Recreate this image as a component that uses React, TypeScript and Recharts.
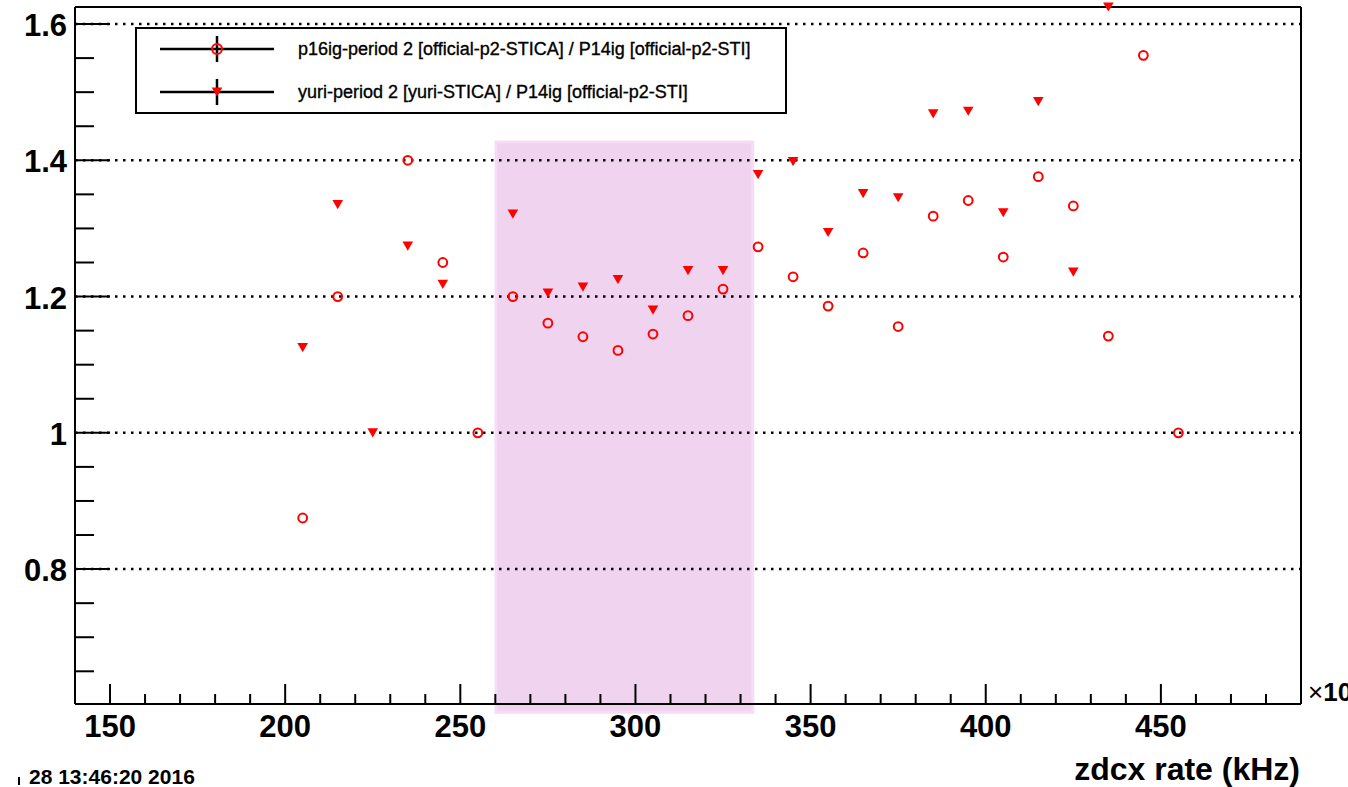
import React from 'react'
import {
  ScatterChart,
  Scatter,
  XAxis,
  YAxis,
  CartesianGrid,
  ReferenceArea,
  ReferenceLine,
  Legend,
} from 'recharts'

// zdcx rate (kHz) and yield ratios per run group
const P16_RATES = [205, 215, 235, 245, 255, 265, 275, 285, 295, 305, 315, 325, 335, 345, 355, 365, 375, 385, 395, 405, 415, 425, 435, 445, 455]
const P16_RATIOS = [0.875, 1.2, 1.4, 1.25, 1.0, 1.2, 1.161, 1.141, 1.121, 1.145, 1.172, 1.211, 1.273, 1.229, 1.186, 1.264, 1.156, 1.318, 1.341, 1.258, 1.376, 1.333, 1.142, 1.554, 1.0]

const YURI_RATES = [205, 215, 225, 235, 245, 265, 275, 285, 295, 305, 315, 325, 335, 345, 355, 365, 375, 385, 395, 405, 415, 425, 435]
const YURI_RATIOS = [1.125, 1.335, 1.0, 1.274, 1.218, 1.321, 1.205, 1.214, 1.225, 1.18, 1.238, 1.238, 1.379, 1.398, 1.294, 1.351, 1.345, 1.468, 1.472, 1.323, 1.486, 1.236, 1.625]

const SERIES_NAMES = [
  'p16ig-period 2 [official-p2-STICA] / P14ig [official-p2-STI]',
  'yuri-period 2 [yuri-STICA] / P14ig [official-p2-STI]',
]

const X_DOMAIN = [140, 490]
const Y_DOMAIN = [0.602, 1.625]

const X_TICKS = [150, 160, 170, 180, 190, 200, 210, 220, 230, 240, 250, 260, 270, 280, 290, 300, 310, 320, 330, 340, 350, 360, 370, 380, 390, 400, 410, 420, 430, 440, 450, 460, 470, 480]
const X_LABELS = [150, 200, 250, 300, 350, 400, 450]
const Y_TICKS = [0.65, 0.7, 0.75, 0.8, 0.85, 0.9, 0.95, 1, 1.05, 1.1, 1.15, 1.2, 1.25, 1.3, 1.35, 1.4, 1.45, 1.5, 1.55, 1.6]
const Y_LABELS = [0.8, 1, 1.2, 1.4, 1.6]

// highlighted rate window
const WINDOW_X = [260.2, 333.5]
const WINDOW_Y = [0.59, 1.427]

const W = 1348
const H = 787
const PLOT_LEFT = 75
const PLOT_RIGHT = 1301
const PLOT_TOP = 7
const PLOT_BOTTOM = 704
const Y_AXIS_W = 40
const X_AXIS_H = 40

const FONT = '"Liberation Sans", Arial, Helvetica, sans-serif'
const RED = '#ff0000'

const p16Data = P16_RATES.map((x, i) => ({ x, y: P16_RATIOS[i] }))
const yuriData = YURI_RATES.map((x, i) => ({ x, y: YURI_RATIOS[i] }))

function OpenCircle({ cx, cy, r = 4.4 }: any) {
  return <circle cx={cx} cy={cy} r={r} fill="none" stroke={RED} strokeWidth={2} />
}

function DownTriangle({ cx, cy }: any) {
  return (
    <polygon
      points={`${cx - 5.3},${cy - 4.6} ${cx + 5.3},${cy - 4.6} ${cx},${cy + 4.6}`}
      fill={RED}
    />
  )
}

function YTick({ y, payload }: any) {
  const major = Y_LABELS.includes(payload.value)
  return (
    <g>
      <line x1={PLOT_LEFT} x2={PLOT_LEFT + (major ? 35 : 19)} y1={y} y2={y} stroke="#000" strokeWidth={2} />
      {major && (
        <text x={67} y={y + 12} textAnchor="end" fontFamily={FONT} fontWeight="bold" fontSize={31} fill="#000">
          {String(payload.value)}
        </text>
      )}
    </g>
  )
}

function XTick({ x, payload }: any) {
  const major = X_LABELS.includes(payload.value)
  return (
    <g>
      <line x1={x} x2={x} y1={PLOT_BOTTOM} y2={PLOT_BOTTOM - (major ? 20 : 10)} stroke="#000" strokeWidth={2} />
      {major && (
        <text x={x} y={737} textAnchor="middle" fontFamily={FONT} fontWeight="bold" fontSize={31} fill="#000">
          {payload.value}
        </text>
      )}
    </g>
  )
}

function AxisTitle() {
  return (
    <g>
      <text x={1300} y={780} textAnchor="end" fontFamily={FONT} fontWeight="bold" fontSize={32} fill="#000">
        zdcx rate (kHz)
      </text>
      <text x={1308} y={701} fontFamily={FONT} fontSize={26} fill="#000">
        ×<tspan fontWeight="bold">10</tspan>
      </text>
    </g>
  )
}

function LegendBox() {
  const rows = [20, 63]
  return (
    <div
      style={{
        width: 652,
        height: 87,
        boxSizing: 'border-box',
        border: '2px solid #000',
        background: '#fff',
      }}
    >
      <svg width={648} height={83} style={{ display: 'block' }}>
        {rows.map((ry, i) => (
          <g key={i}>
            <line x1={23} x2={137} y1={ry} y2={ry} stroke="#000" strokeWidth={2.5} />
            <line x1={80} x2={80} y1={ry - 13} y2={ry + 13} stroke="#000" strokeWidth={2.5} />
            {i === 0 ? <OpenCircle cx={80} cy={ry} r={5} /> : <DownTriangle cx={80} cy={ry} />}
            <text
              x={161}
              y={ry + 6}
              fontFamily={FONT}
              fontSize={18}
              fill="#000"
              stroke="#000"
              strokeWidth={0.35}
            >
              {SERIES_NAMES[i]}
            </text>
          </g>
        ))}
      </svg>
    </div>
  )
}

export default function App() {
  return (
    <div style={{ position: 'absolute', left: 0, top: 0, width: W, height: H, background: '#fff', overflow: 'hidden' }}>
      <ScatterChart
        width={W}
        height={H}
        margin={{
          top: PLOT_TOP,
          right: W - PLOT_RIGHT,
          bottom: H - PLOT_BOTTOM - X_AXIS_H,
          left: PLOT_LEFT - Y_AXIS_W,
        }}
      >
        <ReferenceArea
          x1={WINDOW_X[0]}
          x2={WINDOW_X[1]}
          y1={WINDOW_Y[0]}
          y2={WINDOW_Y[1]}
          ifOverflow="visible"
          fill="#efd3ef"
          fillOpacity={1}
          stroke="#f6dcf6"
          strokeWidth={3}
          zIndex={-200}
        />
        <CartesianGrid
          vertical={false}
          horizontalValues={Y_LABELS}
          stroke="#000"
          strokeWidth={2.5}
          strokeDasharray="2.5 5.5"
        />
        <XAxis
          dataKey="x"
          type="number"
          domain={X_DOMAIN}
          ticks={X_TICKS}
          interval={0}
          height={X_AXIS_H}
          tickLine={false}
          axisLine={{ stroke: '#000', strokeWidth: 2 }}
          tick={<XTick />}
          label={{ content: <AxisTitle /> }}
        />
        <YAxis
          dataKey="y"
          type="number"
          domain={Y_DOMAIN}
          ticks={Y_TICKS}
          interval={0}
          width={Y_AXIS_W}
          tickLine={false}
          axisLine={{ stroke: '#000', strokeWidth: 2 }}
          tick={<YTick />}
        />
        <ReferenceLine y={Y_DOMAIN[1]} stroke="#000" strokeWidth={2} />
        <ReferenceLine x={X_DOMAIN[1]} stroke="#000" strokeWidth={2} />
        <Legend
          layout="horizontal"
          verticalAlign="middle"
          align="center"
          content={<LegendBox />}
          wrapperStyle={{ left: 135, top: 27, width: 652, height: 87 }}
        />
        <Scatter data={p16Data} shape={<OpenCircle />} isAnimationActive={false} />
        <Scatter data={yuriData} shape={<DownTriangle />} isAnimationActive={false} />
      </ScatterChart>
      <svg width={300} height={37} style={{ position: 'absolute', left: 0, top: 750 }}>
        <line x1={19} x2={19} y1={27} y2={35} stroke="#000" strokeWidth={2} />
        <text x={29} y={34} fontFamily={FONT} fontWeight="bold" fontSize={21} fill="#000">
          28 13:46:20 2016
        </text>
      </svg>
    </div>
  )
}
